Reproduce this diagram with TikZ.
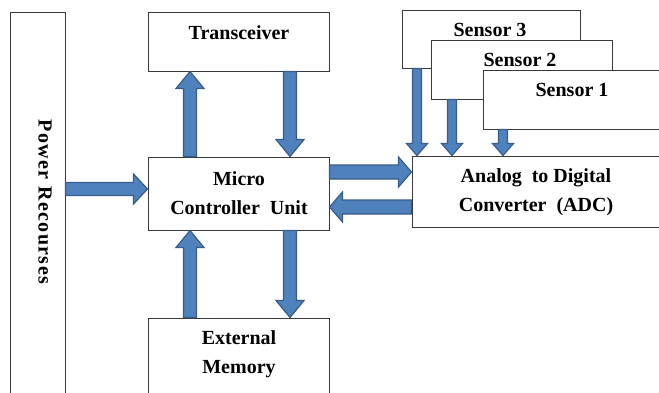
\documentclass[tikz,border=0pt]{standalone}
\usepackage{fontspec}
\setmainfont{Liberation Serif}
\usetikzlibrary{calc}
\definecolor{arrfill}{HTML}{4F81BD}
\definecolor{arrline}{HTML}{385D8A}
\definecolor{boxline}{HTML}{3A3A3A}
\tikzset{
  box/.style={draw=boxline, line width=1pt, fill=white, rectangle, inner sep=0pt},
  lbl/.style={font=\fontsize{20}{29}\selectfont\bfseries, align=center, inner sep=0pt, text=black},
  blockarrow/.style={fill=arrfill, draw=arrline, line width=1.2pt, line join=miter}
}
\newcommand\barrow[5]{%
  \coordinate (bA) at #1; \coordinate (bB) at #2;
  \coordinate (bH) at ($(bB)!#5!(bA)$);
  \draw[blockarrow] ($(bA)!#3!90:(bB)$) -- ($(bH)!#3!90:(bB)$) -- ($(bH)!#4!90:(bB)$) -- (bB)
    -- ($(bH)!#4!-90:(bB)$) -- ($(bH)!#3!-90:(bB)$) -- ($(bA)!#3!-90:(bB)$) -- cycle;}
\begin{document}
\begin{tikzpicture}[x=1pt,y=-1pt]
\useasboundingbox (0,0) rectangle (659,392);
\clip (0,0) rectangle (659,392);
\fill[white] (0,0) rectangle (659,392);
% boxes
\node[box, minimum width=55pt, minimum height=388pt] (pwr) at (37.5,206) {};
\node[box, minimum width=181pt, minimum height=59pt] (trx) at (238.5,41.5) {};
\node[box, minimum width=181pt, minimum height=73pt] (mcu) at (238.5,193.5) {};
\node[box, minimum width=181pt, minimum height=82pt] (mem) at (238.5,359) {};
\node[box, minimum width=178pt, minimum height=58pt] (s3) at (491,39) {};
\node[box, minimum width=181pt, minimum height=59pt] (s2) at (521.5,69.5) {};
\node[box, minimum width=187pt, minimum height=59pt] (s1) at (576.5,99.5) {};
\node[box, minimum width=258pt, minimum height=71pt] (adc) at (541,191.5) {};
% labels
\node[lbl, rotate=-90] (pwrt) at (45,202) {\addfontfeature{LetterSpace=7}Power Recourses};
\node[lbl] (trxt) at (239,33) {Transceiver};
\node[lbl] (mcut) at (239,193) {Micro\\Controller\ \ Unit};
\node[lbl] (memt) at (239,354) {External\\Memory};
\node[lbl] (s3t) at (490,30) {Sensor 3};
\node[lbl] (s2t) at (520,60) {Sensor 2};
\node[lbl] (s1t) at (572,90) {Sensor 1};
\node[lbl] (adct) at (536,192) {Analog\ \ to Digital\\Converter\ \ (ADC)};
% arrows
\barrow{(190,0 |- mcu.north)}{(190,0 |- trx.south)}{6.5pt}{14pt}{17pt}
\barrow{(290,0 |- trx.south)}{(290,0 |- mcu.north)}{6.5pt}{14pt}{17pt}
\barrow{(pwr.east |- 0,189)}{(mcu.west |- 0,189)}{6.5pt}{15pt}{14pt}
\barrow{(mcu.east |- 0,172)}{(adc.west |- 0,172)}{7pt}{15pt}{13pt}
\barrow{(adc.west |- 0,207)}{(mcu.east |- 0,207)}{7pt}{15pt}{13pt}
\barrow{(290,0 |- mcu.south)}{(290,0 |- mem.north)}{6.5pt}{14pt}{17pt}
\barrow{(190,0 |- mem.north)}{(190,0 |- mcu.south)}{6.5pt}{14pt}{17pt}
\barrow{(417,0 |- s3.south)}{(417,0 |- adc.north)}{4.5pt}{10.5pt}{12pt}
\barrow{(452,0 |- s2.south)}{(452,0 |- adc.north)}{4.5pt}{10.5pt}{12pt}
\barrow{(503,0 |- s1.south)}{(503,0 |- adc.north)}{4.5pt}{10.5pt}{12pt}
\end{tikzpicture}
\end{document}
